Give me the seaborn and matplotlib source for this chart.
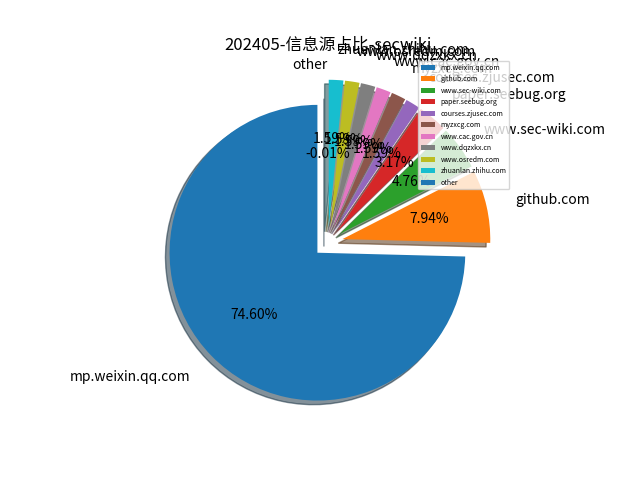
import numpy as np
import matplotlib
matplotlib.use('Agg')
import matplotlib.pyplot as plt
import seaborn as sns

TITLE = '202405-信息源占比-secwiki'

# source sites, in the order they are drawn
sources = ['mp.weixin.qq.com', 'github.com', 'www.sec-wiki.com', 'paper.seebug.org',
           'courses.zjusec.com', 'myzxcg.com', 'www.cac.gov.cn', 'www.dqzxkx.cn',
           'www.osredm.com', 'zhuanlan.zhihu.com', 'other']

# share in percent as printed on the chart (other = 100 - sum of the rest)
shares = [74.60, 7.94, 4.76, 3.17, 1.59, 1.59, 1.59, 1.59, 1.59, 1.59, -0.01]

# every site pulled out a bit, "other" stays in place
explode = [0.1] * 10 + [0]

colors = sns.color_palette('tab10', len(sources))

plt.rcParams['font.family'] = ['Noto Sans CJK SC', 'DejaVu Sans']

fig, ax = plt.subplots(figsize=(6.4, 4.8), dpi=100)

#wedges can not be negative, the printed text still shows the real share
sizes = np.clip(shares, 0, None)
pct_text = iter([f'{s:.2f}%' for s in shares])

wedges, texts, autotexts = ax.pie(
    sizes,
    explode=explode,
    labels=sources,
    colors=colors,
    autopct=lambda p: next(pct_text),
    shadow=True,
    startangle=90,
    labeldistance=1.2,
    pctdistance=0.6,
)
texts[-1].set_horizontalalignment('right')

ax.set_title(TITLE)
ax.legend(loc='upper right', fontsize=5)

fig.savefig('out.png', dpi=100)
